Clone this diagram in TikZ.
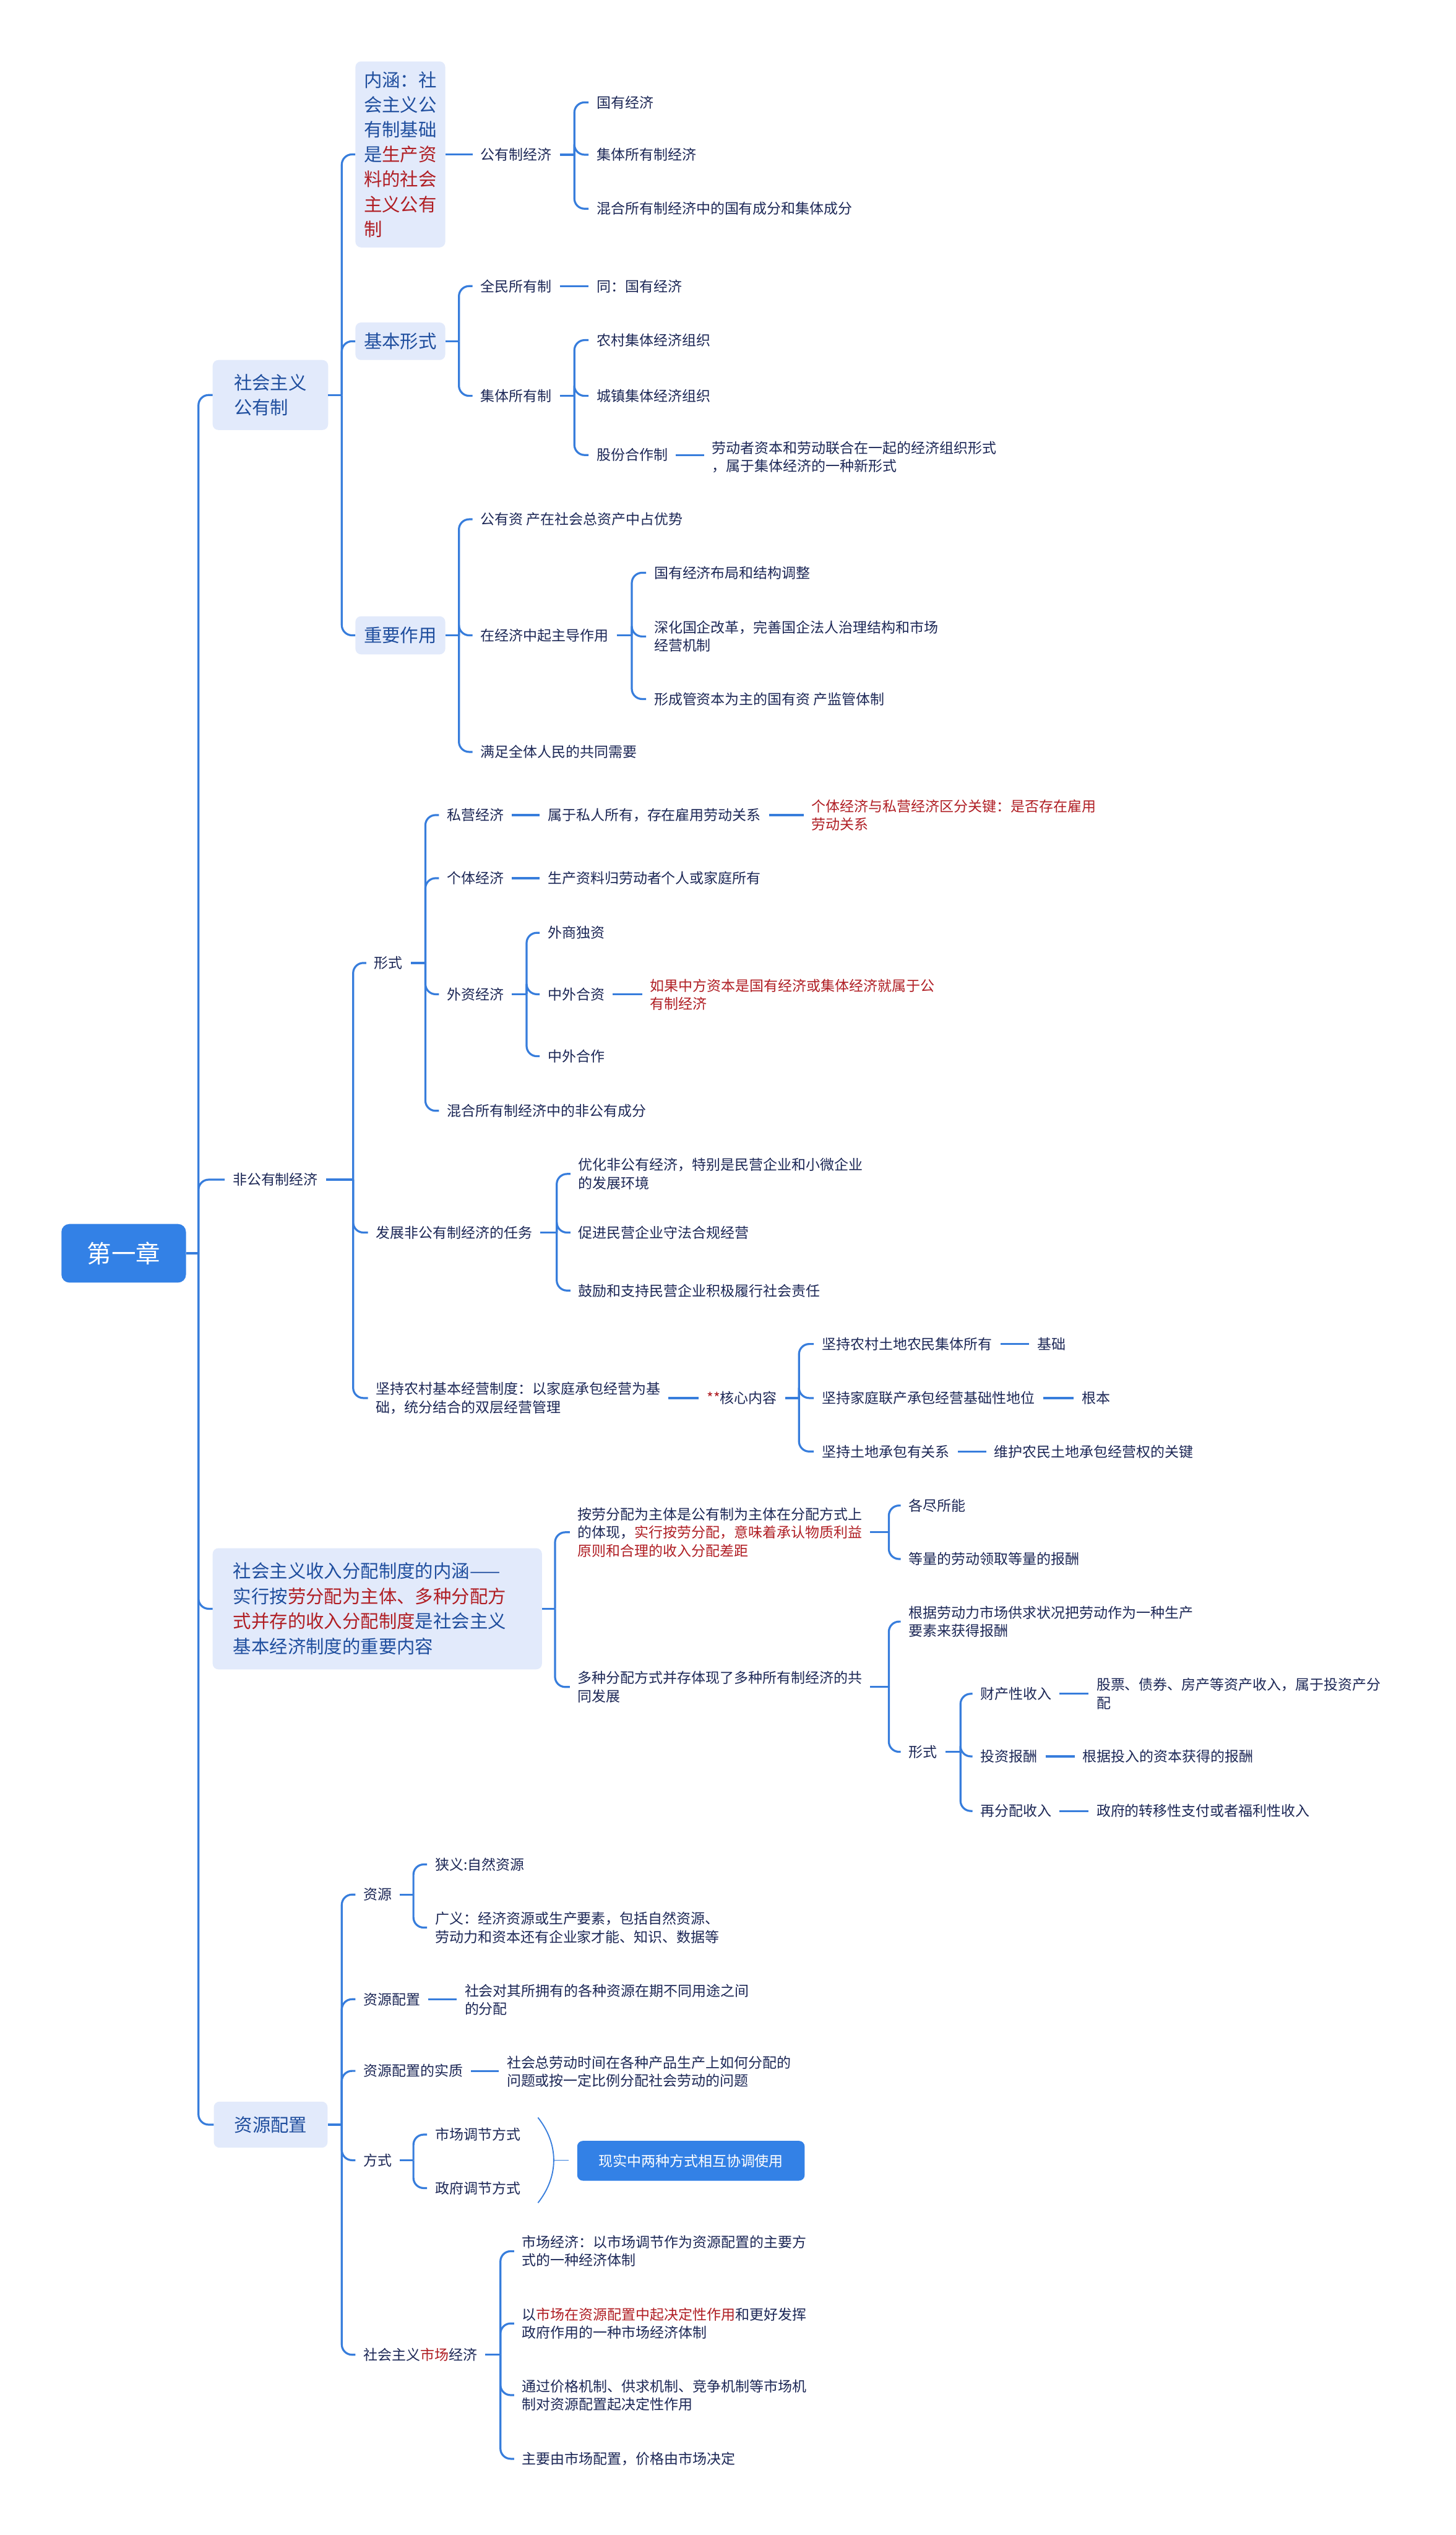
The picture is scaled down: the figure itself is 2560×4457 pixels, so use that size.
\documentclass[tikz,border=0pt]{standalone}
\usepackage{fontspec}
\setmainfont{Noto Sans CJK SC}
\definecolor{lineblue}{HTML}{377DDC}
\definecolor{rootblue}{HTML}{3381E6}
\definecolor{boxfill}{HTML}{E2EAFB}
\definecolor{boxtxt}{HTML}{1F4E9E}
\definecolor{leaftxt}{HTML}{1C2756}
\definecolor{hired}{HTML}{B01E24}
\tikzset{
 conn/.style={draw=lineblue,line width=3.5pt},
 connr/.style={conn,rounded corners=18pt},
 leaf/.style={anchor=west,inner xsep=14pt,inner ysep=3pt,text=leaftxt,font=\fontsize{25}{32}\selectfont,align=left},
 leafred/.style={leaf,text=hired},
 lbox/.style={fill=boxfill,rounded corners=10pt,text=boxtxt,font=\fontsize{32}{44}\selectfont,align=left,inner sep=0pt},
 rootbox/.style={fill=rootblue,rounded corners=14pt,text=white,font=\fontsize{43}{50}\selectfont,inner sep=0pt},
 bluebox/.style={fill=rootblue,rounded corners=10pt,text=white,font=\fontsize{25}{32}\selectfont,inner sep=0pt},
 thinconn/.style={draw=lineblue,line width=2pt},
}
\newcommand\mmbranch[3]{%
 \draw[conn] (#1.east) -- (#1.east -| #2);
 \foreach \mmc in {#3}{\draw[connr] (#1.east -| #2) |- (\mmc.west);}}
\newcommand\mmline[2]{\draw[conn] (#1.east) -- (#1.east -| #2.west);}
\begin{document}
\begin{tikzpicture}[x=1pt,y=-1pt]
\useasboundingbox (0,0) rectangle (2560,4457);
\fill[white] (0,0) rectangle (2560,4457);
% root
\node[rootbox,minimum width=219pt,minimum height=103pt] (root) at (217.5,2203.5) {第一章};
\coordinate (t0) at (349,0);
% ---- 社会主义公有制
\node[lbox,minimum width=203pt,minimum height=123pt] (gyz) at (475.5,694.5) {社会主义\\公有制};
\coordinate (v1) at (601,0);
\node[lbox,minimum width=158pt,minimum height=327pt,font=\fontsize{32}{43.7}\selectfont] (nh) at (704,271.5) {内涵：社\\会主义公\\有制基础\\是\textcolor{hired}{生产资}\\\textcolor{hired}{料的社会}\\\textcolor{hired}{主义公有}\\\textcolor{hired}{制}};
\node[lbox,minimum width=158pt,minimum height=66pt] (jbxs) at (704,600) {基本形式};
\node[lbox,minimum width=158pt,minimum height=67pt] (zyzy) at (704,1117) {重要作用};
\node[leaf] (gyzjj) at (831,272) {公有制经济};
\coordinate (v2) at (1010,0);
\node[leaf] (a1) at (1035,180) {国有经济};
\node[leaf] (a2) at (1035,272) {集体所有制经济};
\node[leaf] (a3) at (1035,367) {混合所有制经济中的国有成分和集体成分};
\coordinate (v3) at (807,0);
\node[leaf] (qm) at (831,503) {全民所有制};
\node[leaf] (qm1) at (1035,503) {同：国有经济};
\node[leaf] (jt) at (831,696) {集体所有制};
\node[leaf] (jt1) at (1035,598) {农村集体经济组织};
\node[leaf] (jt2) at (1035,696) {城镇集体经济组织};
\node[leaf] (jt3) at (1035,800) {股份合作制};
\node[leaf] (jt3a) at (1238,803.5) {劳动者资本和劳动联合在一起的经济组织形式\\，属于集体经济的一种新形式};
\node[leaf] (z1) at (831,913) {公有资 产在社会总资产中占优势};
\node[leaf] (z2) at (831,1117) {在经济中起主导作用};
\node[leaf] (z3) at (831,1322) {满足全体人民的共同需要};
\coordinate (v4) at (1111,0);
\node[leaf] (z21) at (1136,1007) {国有经济布局和结构调整};
\node[leaf] (z22) at (1136,1119) {深化国企改革，完善国企法人治理结构和市场\\经营机制};
\node[leaf] (z23) at (1136,1229) {形成管资本为主的国有资 产监管体制};
% ---- 非公有制经济
\node[leaf] (fg) at (395,2074) {非公有制经济};
\coordinate (v5) at (621,0);
\node[leaf] (xs) at (644,1693) {形式};
\node[leaf] (fz) at (647,2167) {发展非公有制经济的任务};
\node[leaf] (nc) at (647,2458) {坚持农村基本经营制度：以家庭承包经营为基\\础，统分结合的双层经营管理};
\coordinate (v6) at (748,0);
\node[leaf] (sy) at (772,1433) {私营经济};
\node[leaf] (sy1) at (949,1433) {属于私人所有，存在雇用劳动关系};
\node[leafred] (sy2) at (1413,1433) {个体经济与私营经济区分关键：是否存在雇用\\劳动关系};
\node[leaf] (gt) at (772,1544) {个体经济};
\node[leaf] (gt1) at (949,1544) {生产资料归劳动者个人或家庭所有};
\node[leaf] (wz) at (772,1748) {外资经济};
\coordinate (v7) at (926,0);
\node[leaf] (wz1) at (949,1640) {外商独资};
\node[leaf] (wz2) at (949,1748) {中外合资};
\node[leafred] (wz2a) at (1129,1749) {如果中方资本是国有经济或集体经济就属于公\\有制经济};
\node[leaf] (wz3) at (949,1857) {中外合作};
\node[leaf] (hh) at (772,1953) {混合所有制经济中的非公有成分};
\coordinate (v8) at (979,0);
\node[leaf] (fz1) at (1003,2064) {优化非公有经济，特别是民营企业和小微企业\\的发展环境};
\node[leaf] (fz2) at (1003,2167) {促进民营企业守法合规经营};
\node[leaf] (fz3) at (1003,2269) {鼓励和支持民营企业积极履行社会责任};
\node[leaf] (hx) at (1229,2458) {\textcolor{hired}{**}核心内容};
\coordinate (v9) at (1405,0);
\node[leaf] (hx1) at (1431,2363) {坚持农村土地农民集体所有};
\node[leaf] (hx1a) at (1810,2363) {基础};
\node[leaf] (hx2) at (1431,2458) {坚持家庭联产承包经营基础性地位};
\node[leaf] (hx2a) at (1888,2458) {根本};
\node[leaf] (hx3) at (1431,2552) {坚持土地承包有关系};
\node[leaf] (hx3a) at (1734,2552) {维护农民土地承包经营权的关键};
% ---- 收入分配
\node[lbox,text width=507pt,inner xsep=36pt,minimum height=213pt] (sr) at (663.5,2828.5) {社会主义收入分配制度的内涵——\\实行按\textcolor{hired}{劳分配为主体、多种分配方}\\\textcolor{hired}{式并存的收入分配制度}是社会主义\\基本经济制度的重要内容};
\coordinate (v10) at (976,0);
\node[leaf] (sr1) at (1002,2694) {按劳分配为主体是公有制为主体在分配方式上\\的体现，\textcolor{hired}{实行按劳分配，意味着承认物质利益}\\\textcolor{hired}{原则和合理的收入分配差距}};
\node[leaf] (sr2) at (1002,2966) {多种分配方式并存体现了多种所有制经济的共\\同发展};
\coordinate (v11) at (1563,0);
\node[leaf] (sr11) at (1584,2647) {各尽所能};
\node[leaf] (sr12) at (1584,2741) {等量的劳动领取等量的报酬};
\node[leaf] (sr21) at (1584,2851) {根据劳动力市场供求状况把劳动作为一种生产\\要素来获得报酬};
\node[leaf] (sr22) at (1584,3080) {形式};
\coordinate (v12) at (1689,0);
\node[leaf] (c1) at (1710,2978) {财产性收入};
\node[leaf] (c1a) at (1914,2978) {股票、债券、房产等资产收入，属于投资产分\\配};
\node[leaf] (c2) at (1710,3088) {投资报酬};
\node[leaf] (c2a) at (1890,3088) {根据投入的资本获得的报酬};
\node[leaf] (c3) at (1710,3184) {再分配收入};
\node[leaf] (c3a) at (1914,3184) {政府的转移性支付或者福利性收入};
% ---- 资源配置
\node[lbox,minimum width=200pt,minimum height=81pt] (zy) at (476,3735.5) {资源配置};
\coordinate (v13) at (601,0);
\node[leaf] (zy1) at (625,3331) {资源};
\coordinate (v14) at (727,0);
\node[leaf] (zy11) at (751,3278) {狭义:自然资源};
\node[leaf] (zy12) at (751,3389) {广义：经济资源或生产要素，包括自然资源、\\劳动力和资本还有企业家才能、知识、数据等};
\node[leaf] (zy2) at (625,3515) {资源配置};
\node[leaf] (zy2a) at (803,3516) {社会对其所拥有的各种资源在期不同用途之间\\的分配};
\node[leaf] (zy3) at (625,3641) {资源配置的实质};
\node[leaf] (zy3a) at (877,3642) {社会总劳动时间在各种产品生产上如何分配的\\问题或按一定比例分配社会劳动的问题};
\node[leaf] (zy4) at (625,3798) {方式};
\node[leaf] (zy41) at (751,3753) {市场调节方式};
\node[leaf] (zy42) at (751,3847) {政府调节方式};
\coordinate (bt) at (946,3723);
\coordinate (bm) at (974,3798);
\coordinate (bb) at (946,3873);
\node[bluebox,minimum width=400pt,minimum height=70pt] (real) at (1215,3799) {现实中两种方式相互协调使用};
\coordinate (rl) at (1000,3798);
\node[leaf] (zy5) at (625,4140) {社会主义\textcolor{hired}{市场}经济};
\coordinate (v15) at (880,0);
\node[leaf] (m1) at (904,3958) {市场经济：以市场调节作为资源配置的主要方\\式的一种经济体制};
\node[leaf] (m2) at (904,4085) {以\textcolor{hired}{市场在资源配置中起决定性作用}和更好发挥\\政府作用的一种市场经济体制};
\node[leaf] (m3) at (904,4211) {通过价格机制、供求机制、竞争机制等市场机\\制对资源配置起决定性作用};
\node[leaf] (m4) at (904,4323) {主要由市场配置，价格由市场决定};
% ---- connectors
\mmbranch{root}{t0}{gyz,fg,sr,zy}
\mmbranch{gyz}{v1}{nh,jbxs,zyzy}
\mmline{nh}{gyzjj}
\mmbranch{gyzjj}{v2}{a1,a2,a3}
\mmbranch{jbxs}{v3}{qm,jt}
\mmline{qm}{qm1}
\mmbranch{jt}{v2}{jt1,jt2,jt3}
\mmline{jt3}{jt3a}
\mmbranch{zyzy}{v3}{z1,z2,z3}
\mmbranch{z2}{v4}{z21,z22,z23}
\mmbranch{fg}{v5}{xs,fz,nc}
\mmbranch{xs}{v6}{sy,gt,wz,hh}
\mmline{sy}{sy1}
\mmline{sy1}{sy2}
\mmline{gt}{gt1}
\mmbranch{wz}{v7}{wz1,wz2,wz3}
\mmline{wz2}{wz2a}
\mmbranch{fz}{v8}{fz1,fz2,fz3}
\mmline{nc}{hx}
\mmbranch{hx}{v9}{hx1,hx2,hx3}
\mmline{hx1}{hx1a}
\mmline{hx2}{hx2a}
\mmline{hx3}{hx3a}
\mmbranch{sr}{v10}{sr1,sr2}
\mmbranch{sr1}{v11}{sr11,sr12}
\mmbranch{sr2}{v11}{sr21,sr22}
\mmbranch{sr22}{v12}{c1,c2,c3}
\mmline{c1}{c1a}
\mmline{c2}{c2a}
\mmline{c3}{c3a}
\mmbranch{zy}{v13}{zy1,zy2,zy3,zy4,zy5}
\mmbranch{zy1}{v14}{zy11,zy12}
\mmline{zy2}{zy2a}
\mmline{zy3}{zy3a}
\mmbranch{zy4}{v14}{zy41,zy42}
\draw[thinconn] (bt) .. controls (983,3770) and (983,3826) .. (bb);
\draw[thinconn] (bm) -- (rl);
\mmbranch{zy5}{v15}{m1,m2,m3,m4}
\end{tikzpicture}
\end{document}
